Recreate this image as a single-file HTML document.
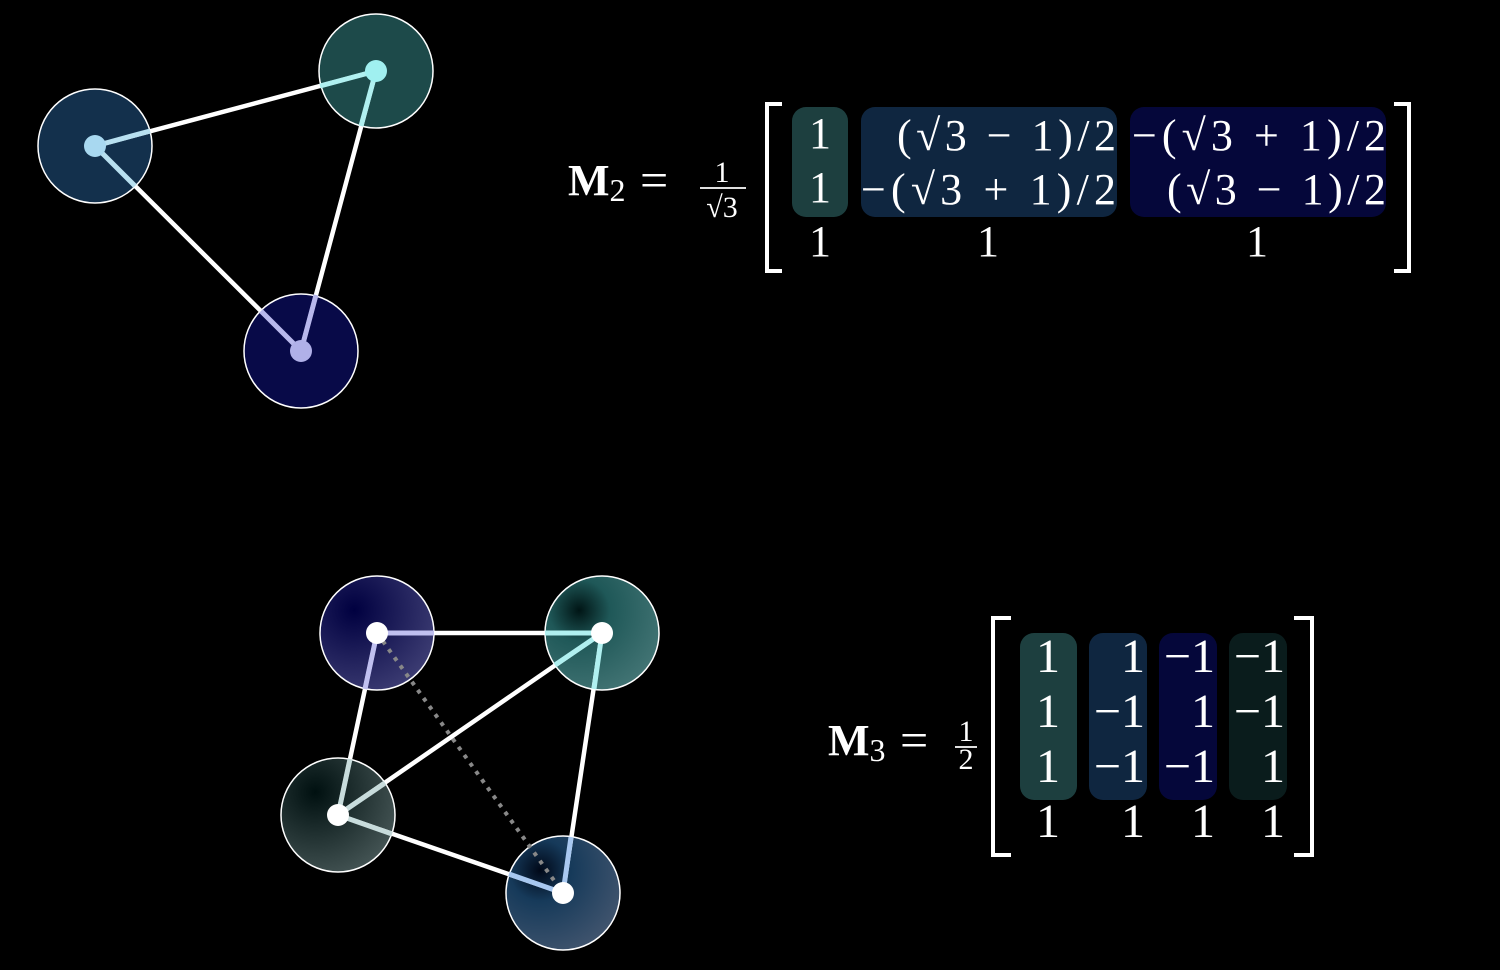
<!DOCTYPE html>
<html><head><meta charset="utf-8"><style>
html,body{margin:0;padding:0;background:#000;width:1500px;height:970px;overflow:hidden}
svg text{font-family:"Liberation Serif","DejaVu Serif",serif;fill:#fff}
</style></head><body>
<svg width="1500" height="970" viewBox="0 0 1500 970" xmlns="http://www.w3.org/2000/svg">
<defs>
<radialGradient id="g1" cx="0.3" cy="0.3" r="0.9"><stop offset="0" stop-color="#000040"/><stop offset="1" stop-color="#45457a"/></radialGradient>
<radialGradient id="g2" cx="0.3" cy="0.3" r="0.9"><stop offset="0" stop-color="#001515"/><stop offset="0.3" stop-color="#1f5858"/><stop offset="1" stop-color="#4a7a7a"/></radialGradient>
<radialGradient id="g3" cx="0.3" cy="0.3" r="0.9"><stop offset="0" stop-color="#001010"/><stop offset="1" stop-color="#4e5e5e"/></radialGradient>
<radialGradient id="g4" cx="0.3" cy="0.3" r="0.9"><stop offset="0" stop-color="#000818"/><stop offset="0.3" stop-color="#163a5a"/><stop offset="1" stop-color="#4a5a72"/></radialGradient>
</defs>
<g stroke="#fff" stroke-width="1.5">
<circle cx="95" cy="146" r="57" fill="#13304c"/>
<circle cx="376" cy="71" r="57" fill="#1d4a4a"/>
<circle cx="301" cy="351" r="57" fill="#080a48"/>
</g>
<g stroke="#fff" stroke-width="4.5" stroke-linecap="round">
<line x1="95" y1="146" x2="376" y2="71"/>
<line x1="95" y1="146" x2="301" y2="351"/>
<line x1="376" y1="71" x2="301" y2="351"/>
</g>
<g stroke-width="5">
<line x1="95" y1="146" x2="150" y2="131" stroke="#b8e0f0"/>
<line x1="95" y1="146" x2="135" y2="186" stroke="#b8e0f0"/>
<line x1="376" y1="71" x2="320" y2="86" stroke="#b0f0f0"/>
<line x1="376" y1="71" x2="361" y2="126" stroke="#b0f0f0"/>
<line x1="301" y1="351" x2="261" y2="311" stroke="#b8b8ec"/>
<line x1="301" y1="351" x2="316" y2="295" stroke="#b8b8ec"/>
</g>
<circle cx="95" cy="146" r="11" fill="#a8d8f0"/>
<circle cx="376" cy="71" r="11" fill="#a0f0f0"/>
<circle cx="301" cy="351" r="11" fill="#b0b0e8"/>

<!-- M2 -->
<text x="568" y="195" font-size="44" font-weight="bold">M<tspan font-size="32" font-weight="normal" dy="6">2</tspan></text>
<text x="640" y="197" font-size="50">=</text>
<text x="722" y="182" font-size="30" text-anchor="middle">1</text>
<line x1="700" y1="188" x2="746" y2="188" stroke="#fff" stroke-width="1.8"/>
<text x="722" y="217" font-size="30" text-anchor="middle">√3</text>
<path d="M782 104 H767 V271 H782" fill="none" stroke="#fff" stroke-width="4"/>
<path d="M1394 104 H1409 V271 H1394" fill="none" stroke="#fff" stroke-width="4"/>
<rect x="792" y="107" width="56" height="110" rx="14" fill="#1d3f3f"/>
<rect x="861" y="107" width="256" height="110" rx="14" fill="#0f2640"/>
<rect x="1130" y="107" width="256" height="110" rx="14" fill="#05073a"/>
<g font-size="44">
<text x="820" y="148" text-anchor="middle">1</text>
<text x="820" y="202" text-anchor="middle">1</text>
<text x="820" y="256" text-anchor="middle">1</text>
<text x="897" y="150" textLength="219" lengthAdjust="spacing">(√3 − 1)/2</text>
<text x="861" y="204" textLength="255" lengthAdjust="spacing">−(√3 + 1)/2</text>
<text x="988" y="256" text-anchor="middle">1</text>
<text x="1132" y="150" textLength="254" lengthAdjust="spacing">−(√3 + 1)/2</text>
<text x="1167" y="204" textLength="219" lengthAdjust="spacing">(√3 − 1)/2</text>
<text x="1257" y="256" text-anchor="middle">1</text>
</g>

<!-- Bottom graph -->
<g stroke="#fff" stroke-width="1.5">
<circle cx="377" cy="633" r="57" fill="url(#g1)"/>
<circle cx="602" cy="633" r="57" fill="url(#g2)"/>
<circle cx="338" cy="815" r="57" fill="url(#g3)"/>
<circle cx="563" cy="893" r="57" fill="url(#g4)"/>
</g>
<line x1="377" y1="633" x2="563" y2="893" stroke="#888" stroke-width="4" stroke-dasharray="4 6"/>
<g stroke="#fff" stroke-width="4.5" stroke-linecap="round">
<line x1="377" y1="633" x2="602" y2="633"/>
<line x1="377" y1="633" x2="338" y2="815"/>
<line x1="602" y1="633" x2="338" y2="815"/>
<line x1="602" y1="633" x2="563" y2="893"/>
<line x1="338" y1="815" x2="563" y2="893"/>
</g>
<g stroke-width="5">
<line x1="377" y1="633" x2="434" y2="633" stroke="#c0c0f0"/>
<line x1="377" y1="633" x2="365" y2="689" stroke="#c0c0f0"/>
<line x1="602" y1="633" x2="545" y2="633" stroke="#b0f0f0"/>
<line x1="602" y1="633" x2="555" y2="665" stroke="#b0f0f0"/>
<line x1="602" y1="633" x2="594" y2="689" stroke="#b0f0f0"/>
<line x1="338" y1="815" x2="350" y2="759" stroke="#c8dcdc"/>
<line x1="338" y1="815" x2="385" y2="783" stroke="#c8dcdc"/>
<line x1="338" y1="815" x2="392" y2="834" stroke="#c8dcdc"/>
<line x1="563" y1="893" x2="571" y2="837" stroke="#a8c8f0"/>
<line x1="563" y1="893" x2="509" y2="874" stroke="#a8c8f0"/>
</g>
<g fill="#fff">
<circle cx="377" cy="633" r="11"/>
<circle cx="602" cy="633" r="11"/>
<circle cx="338" cy="815" r="11"/>
<circle cx="563" cy="893" r="11"/>
</g>

<!-- M3 -->
<text x="828" y="755" font-size="44" font-weight="bold">M<tspan font-size="32" font-weight="normal" dy="6">3</tspan></text>
<text x="900" y="757" font-size="50">=</text>
<text x="966" y="741" font-size="30" text-anchor="middle">1</text>
<line x1="955" y1="747" x2="977" y2="747" stroke="#fff" stroke-width="1.8"/>
<text x="966" y="769" font-size="30" text-anchor="middle">2</text>
<path d="M1011 618 H993 V855 H1011" fill="none" stroke="#fff" stroke-width="4"/>
<path d="M1294 618 H1312 V855 H1294" fill="none" stroke="#fff" stroke-width="4"/>
<rect x="1020" y="633" width="57" height="167" rx="14" fill="#1d3f3f"/>
<rect x="1089" y="633" width="58" height="167" rx="14" fill="#0f2640"/>
<rect x="1159" y="633" width="58" height="167" rx="14" fill="#05073a"/>
<rect x="1229" y="633" width="58" height="167" rx="14" fill="#0a1c1c"/>
<g font-size="48" text-anchor="end">
<text x="1060" y="672">1</text><text x="1145" y="672">1</text><text x="1215" y="672">−1</text><text x="1285" y="672">−1</text>
<text x="1060" y="727">1</text><text x="1145" y="727">−1</text><text x="1215" y="727">1</text><text x="1285" y="727">−1</text>
<text x="1060" y="782">1</text><text x="1145" y="782">−1</text><text x="1215" y="782">−1</text><text x="1285" y="782">1</text>
<text x="1060" y="837">1</text><text x="1145" y="837">1</text><text x="1215" y="837">1</text><text x="1285" y="837">1</text>
</g>
</svg>
</body></html>
